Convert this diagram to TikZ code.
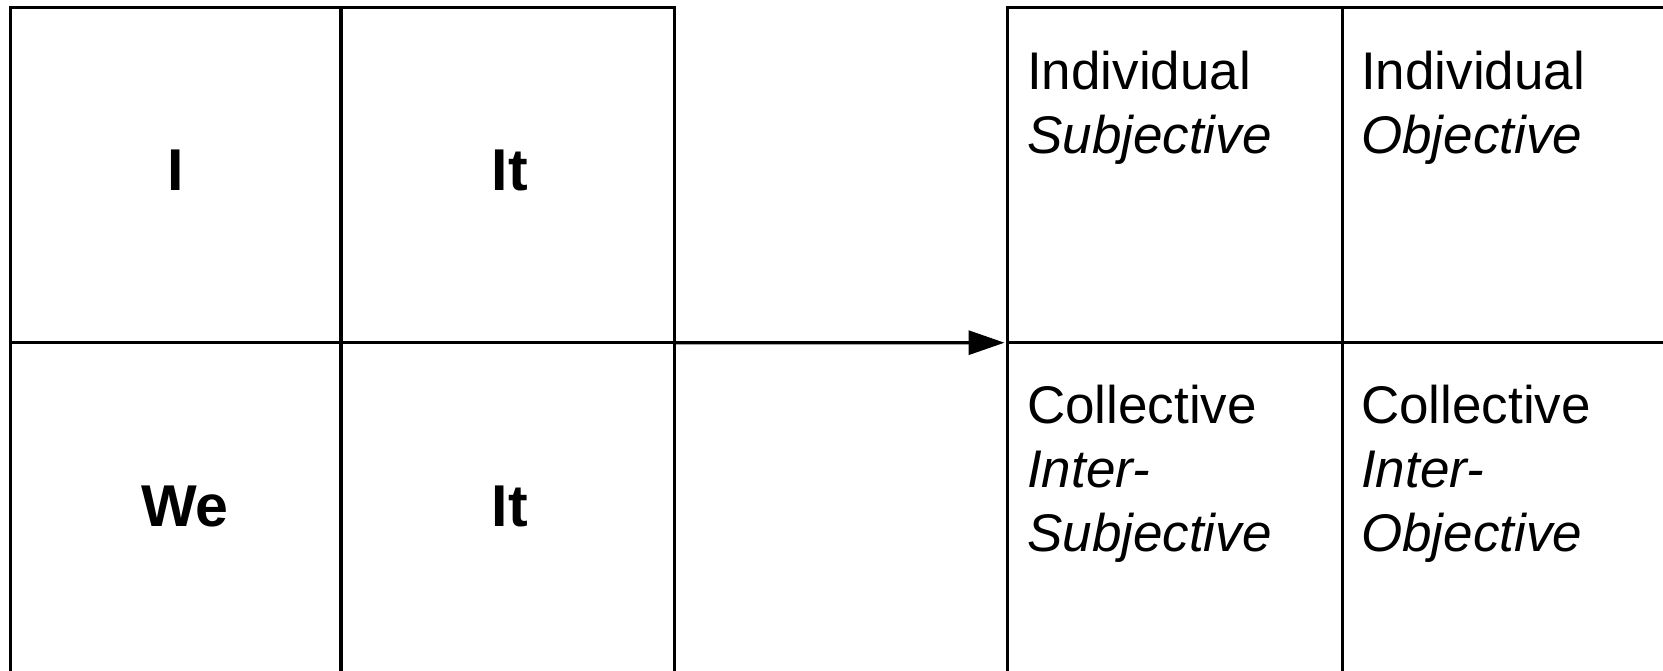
\documentclass[tikz,border=0pt]{standalone}
\usepackage{fontspec}
\setmainfont{Liberation Sans}
\usetikzlibrary{arrows.meta}
\begin{document}
\begin{tikzpicture}[x=1pt,y=-1pt,
  gridcell/.style={draw, line width=3.3pt, rectangle, inner sep=0pt, outer sep=0pt,
    anchor=north west, minimum height=335.2pt},
  boldlbl/.style={font=\fontsize{59}{64}\selectfont\bfseries, anchor=base, inner sep=0pt},
  quadtxt/.style={font=\fontsize{53}{64}\selectfont, anchor=north west, align=left, inner sep=0pt},
  conn/.style={line width=3.3pt, -{Triangle[length=36pt,width=24pt]}, shorten >=3pt}]
\fill[white] (0,0) rectangle (1663,671);
\useasboundingbox (0,0) rectangle (1663,671);
% left grid
\node[gridcell, minimum width=330.2pt] (cI)   at (10.8,7.5) {};
\node[gridcell, minimum width=333.4pt] (cIt)  at (341,7.5) {};
\node[gridcell, minimum width=330.2pt] (cWe)  at (10.8,342.7) {};
\node[gridcell, minimum width=333.4pt] (cIt2) at (341,342.7) {};
\node[boldlbl] (tI)   at (176,191) {I};
\node[boldlbl] (tIt)  at (510,191) {It};
\node[boldlbl] (tWe)  at (185,526) {We};
\node[boldlbl] (tIt2) at (510,526) {It};
% right grid
\node[gridcell, minimum width=335pt] (r1) at (1007.5,7.5) {};
\node[gridcell, minimum width=335pt] (r2) at (1342.5,7.5) {};
\node[gridcell, minimum width=335pt] (r3) at (1007.5,342.7) {};
\node[gridcell, minimum width=335pt] (r4) at (1342.5,342.7) {};
\node[quadtxt] (q1) at (1027,51) {Individual\\\textit{Subjective}};
\node[quadtxt] (q2) at (1361,51) {Individual\\\textit{Objective}};
\node[quadtxt] (q3) at (1027,385) {Collective\\\textit{Inter-}\\\textit{Subjective}};
\node[quadtxt] (q4) at (1361,385) {Collective\\\textit{Inter-}\\\textit{Objective}};
% connector
\draw[conn] (cIt.south east) -- (r3.north west);
\end{tikzpicture}
\end{document}
